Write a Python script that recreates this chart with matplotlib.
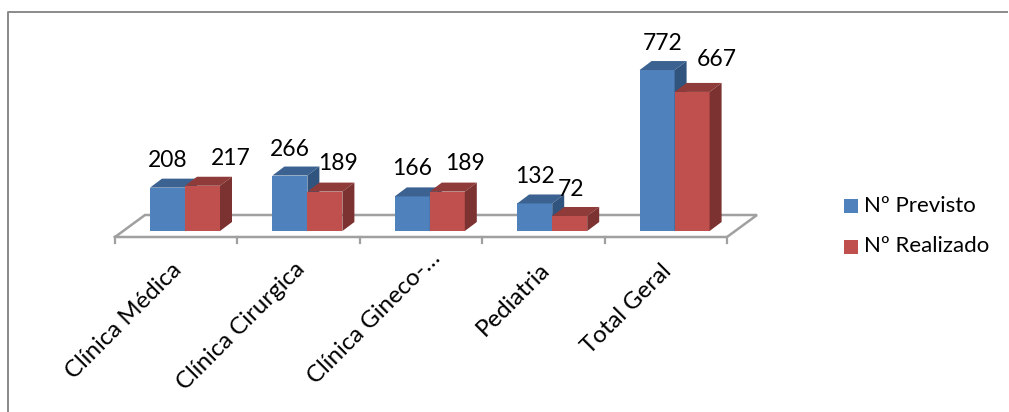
import matplotlib
matplotlib.use("Agg")
import matplotlib.pyplot as plt
from matplotlib.patches import Rectangle

categories = ["Clínica Médica", "Clínica Cirurgica", "Clínica Gineco-…", "Pediatria", "Total Geral"]
previsto = [208, 266, 166, 132, 772]
realizado = [217, 189, 189, 72, 667]
series_names = ["Nº Previsto", "Nº Realizado"]

W, H = 1009, 412
PX_X = 122.4
PX_Y = 0.2085
X0, Y0 = 185, 231
BAR = 35 / PX_X
DX, DY = 12 / PX_X, 9 / PX_Y

plt.rcParams["font.family"] = ["Lato", "DejaVu Sans"]
fig = plt.figure(figsize=(W / 100, H / 100), dpi=100)
ax = fig.add_axes([0, 0, 1, 1])
ax.set_xlim(-X0 / PX_X, (W - X0) / PX_X)
ax.set_ylim((Y0 - H) / PX_Y, Y0 / PX_Y)
ax.axis("off")

def px(x, y):
    return (x - X0) / PX_X, (Y0 - y) / PX_Y

# outer frame
frame = "#8a8a8a"
fx = [px(8, 412), px(8, 12), px(1007, 12)]
ax.plot(*zip(*fx), color=frame, lw=1.4, zorder=1)

# floor
floor = "#a0a0a0"
fl = [px(115, 237), px(145, 215), px(757, 215), px(727, 237), px(115, 237)]
ax.plot(*zip(*fl), color=floor, lw=1.8, zorder=2, solid_joinstyle="miter")
for i in range(len(categories) + 1):
    tx0 = px(115, 0)[0] + i
    ax.plot([tx0, tx0], [px(0, 237)[1], px(0, 243)[1]], color=floor, lw=1.6, zorder=2)

def bar3d(x, v, front, top, side, z):
    ax.bar(x, v, BAR, align="edge", color=front, zorder=z, linewidth=0)
    ax.fill([x, x + DX, x + BAR + DX, x + BAR], [v, v + DY, v + DY, v], color=top, lw=0, zorder=z)
    ax.fill([x + BAR, x + BAR + DX, x + BAR + DX, x + BAR], [v, v + DY, DY, 0], color=side, lw=0, zorder=z)

for i in range(len(categories)):
    bar3d(i - BAR, previsto[i], "#4f81bd", "#3c6291", "#31547f", 3)
    bar3d(i, realizado[i], "#c0504d", "#8e3b39", "#7b3230", 4)

# data label offsets in px from the top centre of each bar's front face
lab_prev = [(0, -27.6), (0, -26.5), (0, -28), (0, -27), (6, -27)]
lab_real = [(28.5, -27), (13, -27.6), (18, -27.6), (1, -26), (25, -32)]
FS = 16.5
for i in range(len(categories)):
    ax.annotate(str(previsto[i]), (i - BAR / 2, previsto[i]), xytext=(lab_prev[i][0] * .72, -lab_prev[i][1] * .72),
                textcoords="offset points", ha="center", va="center", fontsize=FS, color="black", zorder=6)
    ax.annotate(str(realizado[i]), (i + BAR / 2, realizado[i]), xytext=(lab_real[i][0] * .72, -lab_real[i][1] * .72),
                textcoords="offset points", ha="center", va="center", fontsize=FS, color="black", zorder=6)

# category labels
cat_offsets = [(-10, -20), (-10, -20), (0, -12), (-10, -20), (-10, -21)]
for i, c in enumerate(categories):
    ax.annotate(c, (i, 0), xytext=cat_offsets[i], textcoords="offset points", rotation=45,
                rotation_mode="anchor", ha="right", va="top", fontsize=17.3, color="black")

# legend
for name, col, yy in zip(series_names, ["#4f81bd", "#c0504d"], [206, 247]):
    x0, y0 = px(844, yy - 7)
    x1, y1 = px(858, yy + 7)
    ax.add_patch(Rectangle((x0, y1), x1 - x0, y0 - y1, color=col, lw=0))
    tx, ty = px(864, yy - 0.5)
    ax.text(tx, ty, name, ha="left", va="center", fontsize=16, color="black")

fig.savefig("out.png", dpi=100)
